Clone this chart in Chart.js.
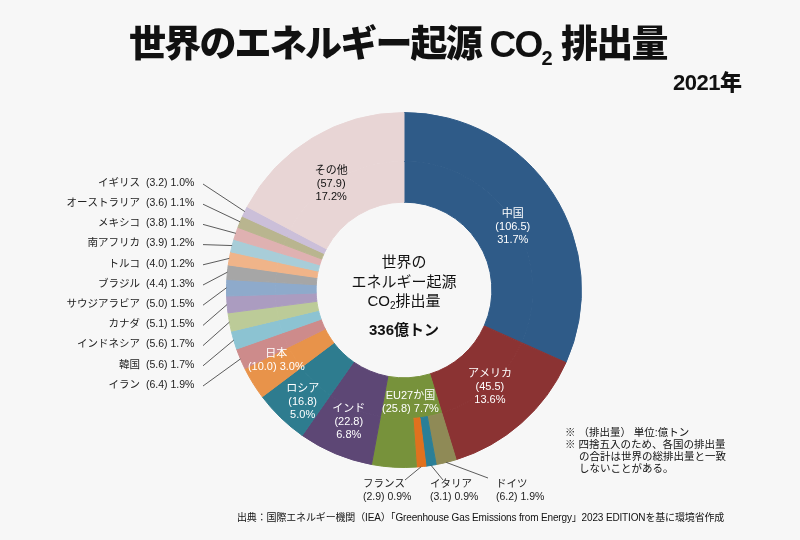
<!DOCTYPE html>
<html lang="ja">
<head>
<meta charset="utf-8">
<script src="https://cdn.jsdelivr.net/npm/chart.js@4"></script>
<style>
  html, body { margin: 0; padding: 0; background: #f7f7f7; }
  #wrap { position: relative; width: 800px; height: 540px; overflow: hidden;
          font-family: "Liberation Sans", "Noto Sans CJK JP", sans-serif; color: #111; }
  #chart { position: absolute; left: 0; top: 0; }
  .title { position: absolute; left: 129px; top: 14px; white-space: nowrap;
           font-size: 37px; font-weight: 900; letter-spacing: -1.8px; }
  .title sub { font-size: 20px; vertical-align: -8px; letter-spacing: 0; }
  .year { position: absolute; left: 673px; top: 64px; font-size: 22px; font-weight: 900; letter-spacing: -0.5px; }
  .center { position: absolute; left: 304px; top: 252px; width: 200px; text-align: center;
            font-size: 15px; line-height: 19.5px; }
  .center sub { font-size: 10px; vertical-align: -3px; }
  .center b { display: block; margin-top: 4px; }
  .notes { position: absolute; left: 565px; top: 426px; font-size: 10.5px; line-height: 12px; white-space: nowrap; }
  .notes .ind { padding-left: 14px; }
  .source { position: absolute; left: 237px; top: 509px; font-size: 10px; letter-spacing: -0.15px; white-space: nowrap; }
</style>
</head>
<body>
<div id="wrap">
  <canvas id="chart" width="800" height="540"></canvas>
  <div class="title">世界のエネルギー起源 CO<sub>2</sub> 排出量</div>
  <div class="year">2021年</div>
  <div class="center">世界の<br>エネルギー起源<br>CO<sub>2</sub>排出量<b>336億トン</b></div>
  <div class="notes">
    <div>※ （排出量） 単位:億トン</div>
    <div>※ 四捨五入のため、各国の排出量</div>
    <div class="ind">の合計は世界の総排出量と一致</div>
    <div class="ind">しないことがある。</div>
  </div>
  <div class="source">出典：国際エネルギー機関（IEA）「Greenhouse Gas Emissions from Energy」2023 EDITIONを基に環境省作成</div>
</div>
<script>
// clockwise from 12 o'clock, units: 億トン
const countries = ['中国', 'アメリカ', 'EU27か国', 'インド', 'ロシア', '日本', 'イラン', '韓国',
  'インドネシア', 'カナダ', 'サウジアラビア', 'ブラジル', 'トルコ', '南アフリカ', 'メキシコ',
  'オーストラリア', 'イギリス', 'その他'];
const emissions = [106.5, 45.5, 25.8, 22.8, 16.8, 10.0, 6.4, 5.6, 5.6, 5.1, 5.0, 4.4, 4.0, 3.9, 3.8, 3.6, 3.2, 57.9];
const shares = [31.7, 13.6, 7.7, 6.8, 5.0, 3.0, 1.9, 1.7, 1.7, 1.5, 1.5, 1.3, 1.2, 1.2, 1.1, 1.1, 1.0, 17.2];
const colors = ['#2f5b88', '#8b3333', '#77923b', '#5d4775', '#2e7c8f', '#e8934a', '#cd8b8b', '#8cc3d2',
  '#bccb98', '#ab9cc0', '#8eaacb', '#a6a6a6', '#f0b489', '#a8cdd8', '#dfb1b1', '#b9b58f', '#cbbfd9', '#e8d5d5'];

// EU members shown as separate wedges inside the EU slice
const euMembers = ['ドイツ', 'イタリア', 'フランス'];
const euEmissions = [6.2, 3.1, 2.9];
const euShares = [1.9, 0.9, 0.9];
const euColors = ['#8f8a56', '#2b7f97', '#e0711e'];

const EU = 2;
const euRest = emissions[EU] - euEmissions.reduce((a, b) => a + b, 0);
const outerData = [...emissions.slice(0, EU), ...euEmissions, euRest, ...emissions.slice(EU + 1)];
const outerColors = [...colors.slice(0, EU), ...euColors, colors[EU], ...colors.slice(EU + 1)];
const outerLabels = [...countries.slice(0, EU), ...euMembers, countries[EU], ...countries.slice(EU + 1)];

const FONT = '"Liberation Sans", "Noto Sans CJK JP", sans-serif';

function arcProps(a) {
  return a.getProps(['x', 'y', 'startAngle', 'endAngle', 'innerRadius', 'outerRadius'], true);
}

const labelPlugin = {
  id: 'sliceLabels',
  afterDatasetsDraw(chart) {
    const ctx = chart.ctx;
    const outer = chart.getDatasetMeta(0).data.map(arcProps);
    const inner = chart.getDatasetMeta(1).data.map(arcProps);
    const cx = inner[0].x, cy = inner[0].y;
    const rOut = outer[0].outerRadius;
    const rMid = (inner[0].innerRadius + rOut) / 2;
    const at = (p, r, da) => {
      const m = (p.startAngle + p.endAngle) / 2 + (da || 0);
      return [cx + Math.cos(m) * r, cy + Math.sin(m) * r];
    };
    ctx.save();
    ctx.font = '11px ' + FONT;
    ctx.textAlign = 'center';
    ctx.textBaseline = 'middle';

    // labels inside the ring: [slice index, radial shift, angle shift]
    const last = emissions.length - 1;
    const inside = [[0, -7, 0.05], [1, -3, 0], [2, -20, 0], [3, 10, 0], [4, 18, -0.03], [5, 13, 0.05], [last, -4, -0.06]];
    inside.forEach(([i, dr, da]) => {
      const v = '(' + emissions[i].toFixed(1) + ')';
      const p = shares[i].toFixed(1) + '%';
      const lines = (i === EU || i === 5) ? [countries[i], v + ' ' + p] : [countries[i], v, p];
      const [x, y] = at(inner[i], rMid + dr, da);
      ctx.fillStyle = i === last ? '#111' : '#fff';
      lines.forEach((t, k) => ctx.fillText(t, x, y + (k - (lines.length - 1) / 2) * 13));
    });

    // small countries on the left with leader lines
    ctx.strokeStyle = '#333';
    ctx.lineWidth = 0.8;
    ctx.fillStyle = '#222';
    ctx.font = '10.5px ' + FONT;
    for (let i = 6; i < last; i++) {
      const y = 385 - (i - 6) * 20.2;
      const oi = i + euEmissions.length;
      const [ex, ey] = at(outer[oi], rOut);
      ctx.beginPath();
      ctx.moveTo(203, y + 1);
      ctx.lineTo(ex, ey);
      ctx.stroke();
      ctx.textAlign = 'right';
      ctx.fillText(countries[i], 140, y);
      ctx.textAlign = 'left';
      ctx.fillText('(' + emissions[i].toFixed(1) + ') ' + shares[i].toFixed(1) + '%', 146, y);
    }

    // EU members below the ring
    const memberPos = [[496, 488, 478], [430, 443, 480], [363, 405, 480]];
    euMembers.forEach((name, k) => {
      const [lx, tx, ty] = memberPos[k];
      const [sx, sy] = at(outer[EU + k], rOut);
      ctx.beginPath();
      ctx.moveTo(sx, sy);
      ctx.lineTo(tx, ty);
      ctx.stroke();
      ctx.textAlign = 'left';
      ctx.fillText(name, lx, 484);
      ctx.fillText('(' + euEmissions[k].toFixed(1) + ') ' + euShares[k].toFixed(1) + '%', lx, 497);
    });
    ctx.restore();
  }
};

new Chart(document.getElementById('chart'), {
  type: 'doughnut',
  data: {
    labels: outerLabels,
    datasets: [
      { data: outerData, backgroundColor: outerColors, borderColor: outerColors, borderWidth: 1, weight: 49 },
      { data: emissions, backgroundColor: colors, borderColor: colors, borderWidth: 1, weight: 41 }
    ]
  },
  options: {
    responsive: false,
    animation: false,
    cutout: '49.5%',
    layout: { padding: { top: 112, bottom: 72, left: 226, right: 218 } },
    plugins: { legend: { display: false }, tooltip: { enabled: false } }
  },
  plugins: [labelPlugin]
});
</script>
</body>
</html>
